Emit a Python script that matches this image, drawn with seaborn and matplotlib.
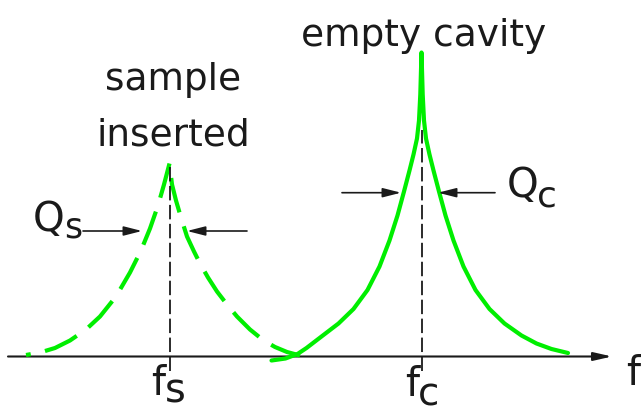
import matplotlib
matplotlib.use("Agg")
import matplotlib.pyplot as plt
import seaborn as sns
import pandas as pd
import numpy as np

# ---- data (frequency axis in arbitrary units, amplitude above baseline) ----
cavity_freq = [271.5, 285.5, 297.5, 306.5, 321.5, 338.5, 353.5, 367.5, 379.5, 389.5, 397.5,
               404, 409.5, 413.5, 417, 419, 420.3, 421.5,
               422.7, 424, 426, 429.5, 433.5, 439, 445.5, 453.5, 463.5, 475.5, 489.5,
               504.5, 521.5, 536.5, 551.5, 568]
cavity_amp = [-4, -2, 2.5, 8.5, 20, 33, 47.5, 66.5, 90, 116, 141,
              165, 186, 202, 218, 236, 262, 304,
              262, 236, 218, 202, 186, 165, 141, 116, 90, 66.5, 47.5,
              33, 21, 13, 7.5, 3.5]

sample_freq = [26, 40, 55, 70, 86, 100, 116, 130, 141, 150, 158, 164, 169.5,
               172, 176, 181, 187, 194, 200, 208, 217, 227, 237, 250, 263, 275, 287, 300]
sample_amp = [1.5, 4, 8.5, 16, 27, 40, 60, 84, 106, 128, 151, 172, 193,
              172, 156, 139, 120, 105, 93, 79, 65, 52, 40, 27, 16.5, 9.5, 4.5, 1]

res_freqs = [169.5, 421.5]          # f_s, f_c
res_line_tops = [193.5, 226.5]
res_line_bottom = -14.5
q_levels = [125.5, 163.8]           # Q_s, Q_c arrow heights
q_outer = [(83, 247), (342, 495)]
q_inner = [(142, 187), (401, 438)]
axis_range = (8, 612)

GREEN = "#00ee00"
INK = "#1a1a1a"
LW = 3.0
DASH = (8.5, 3.5)   # in line widths

sns.set_theme(style="white")
plt.rcParams["font.family"] = ["DejaVu Sans"]

fig = plt.figure(figsize=(6.41, 4.09), dpi=100)
ax = fig.add_axes([0, 0, 1, 1])
ax.set_xlim(0, 641)
ax.set_ylim(-52.5, 356.5)
ax.axis("off")

# frequency axis
ax.annotate("", xy=(axis_range[1], 0), xytext=(axis_range[0], 0),
            arrowprops=dict(arrowstyle="-|>,head_length=1.1,head_width=0.25", color=INK,
                            lw=1.5, mutation_scale=10, shrinkA=0, shrinkB=0), zorder=1)

cav = pd.DataFrame({"f": cavity_freq, "a": cavity_amp})
smp = pd.DataFrame({"f": sample_freq, "a": sample_amp})
sns.lineplot(data=cav, x="f", y="a", ax=ax, color=GREEN, lw=LW, estimator=None,
             sort=False, zorder=2)
sns.lineplot(data=smp, x="f", y="a", ax=ax, color=GREEN, lw=LW, estimator=None,
             sort=False, zorder=2)
sample_line = ax.lines[-1]

# dash phase: let a dash end right at the sample peak (as in the picture)
pts = ax.transData.transform(np.column_stack([sample_freq, sample_amp])) * 72 / fig.dpi
seg = np.hypot(*np.diff(pts, axis=0).T)
peak_idx = int(np.argmax(sample_amp))
L_peak = seg[:peak_idx].sum() / LW          # in line-width units
offset = (DASH[0] - L_peak) % (DASH[0] + DASH[1])
sample_line.set_linestyle((offset, DASH))
for ln in ax.lines[-2:]:
    ln.set_solid_joinstyle("round")
    ln.set_dash_joinstyle("round")

# resonance markers
for f0, top in zip(res_freqs, res_line_tops):
    ax.plot([f0, f0], [res_line_bottom, top], color=INK, lw=1.3,
            linestyle=(0, (8, 2.5)), zorder=3)

# Q width arrows
for lvl, (o1, o2), (i1, i2) in zip(q_levels, q_outer, q_inner):
    for start, end in ((o1, i1), (o2, i2)):
        ax.annotate("", xy=(end, lvl), xytext=(start, lvl),
                    arrowprops=dict(arrowstyle="-|>,head_length=1.1,head_width=0.28",
                                    color=INK, lw=1.2, mutation_scale=10,
                                    shrinkA=0, shrinkB=0), zorder=3)

txt = dict(color=INK, va="baseline")
ax.text(424, 310.5, "empty cavity", ha="center", fontsize=27, **txt)
ax.text(173, 266.5, "sample", ha="center", fontsize=27, **txt)
ax.text(173, 210.5, "inserted", ha="center", fontsize=27, **txt)

ax.text(33, 125, "Q", ha="left", fontsize=29, **txt)
ax.text(64, 119.5, "s", ha="left", fontsize=25, **txt)
ax.text(507, 160, "Q", ha="left", fontsize=29, **txt)
ax.text(537, 150, "c", ha="left", fontsize=26, **txt)

ax.text(151, -38.5, "f", ha="left", fontsize=29, **txt)
ax.text(165, -46, "s", ha="left", fontsize=29, **txt)
ax.text(405, -39.5, "f", ha="left", fontsize=29, **txt)
ax.text(418, -49, "c", ha="left", fontsize=28, **txt)
ax.text(626, -28.5, "f", ha="left", fontsize=29, **txt)

fig.savefig("out.png", dpi=100)
